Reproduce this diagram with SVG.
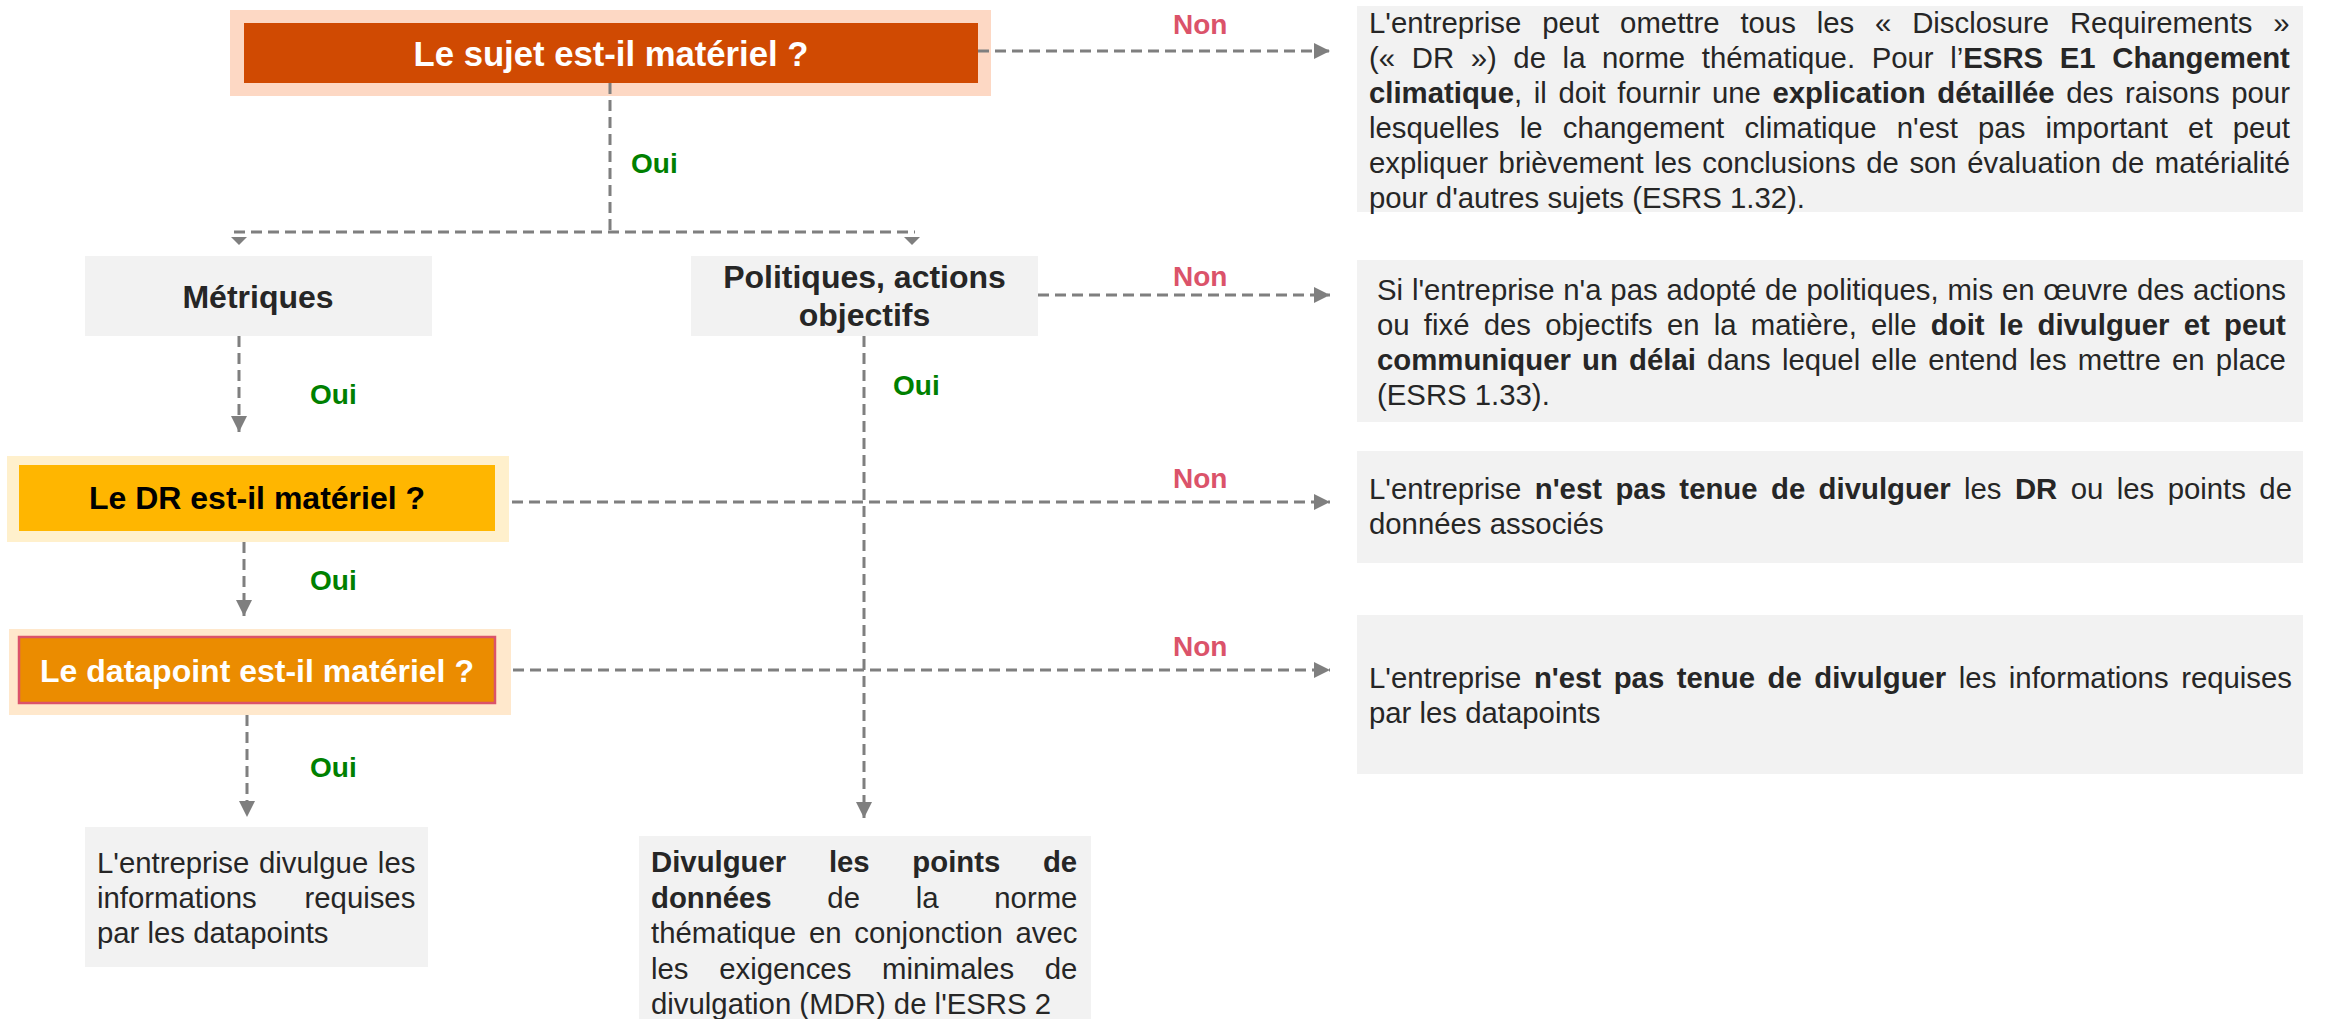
<svg xmlns="http://www.w3.org/2000/svg" width="2326" height="1019" viewBox="0 0 2326 1019">
<defs>
<style>
text{font-family:"Liberation Sans",Arial,Helvetica,sans-serif}
.t{font-size:29.33px;fill:#262626}
.b{font-weight:bold}
.h{font-size:32px;font-weight:bold;text-anchor:middle}
.lbl{font-size:28px;font-weight:bold}
.oui{fill:#008000}
.non{fill:#DB536A}
.box{fill:#F2F2F2}
.c{fill:none;stroke:#7F7F7F;stroke-width:3;stroke-dasharray:11 6}
.tri{fill:#7F7F7F}
</style>
<marker id="ah" markerUnits="userSpaceOnUse" markerWidth="16" markerHeight="16" refX="16" refY="8" orient="auto" viewBox="0 0 16 16">
<path d="M0,0 L16,8 L0,16 z" fill="#7F7F7F"/>
</marker>
</defs>
<rect width="2326" height="1019" fill="#FFFFFF"/>

<g id="n-sujet">
<rect x="230" y="10" width="761" height="86" fill="#FDD8C4"/>
<rect x="244" y="23" width="734" height="60" fill="#D04A02"/>
<text x="611" y="66" style="font-size:34.67px;font-weight:bold;text-anchor:middle;fill:#FFFFFF">Le sujet est-il matériel ?</text>
</g>

<g id="n-metriques">
<rect class="box" x="85" y="256" width="347" height="80"/>
<text class="h" x="258" y="308" fill="#262626">Métriques</text>
</g>

<g id="n-politiques">
<rect class="box" x="691" y="256" width="347" height="80"/>
<text class="h" x="864.5" y="288" fill="#262626">Politiques, actions</text>
<text class="h" x="864.5" y="326" fill="#262626">objectifs</text>
</g>

<g id="n-dr">
<rect x="7" y="456" width="502" height="86" fill="#FFF0CC"/>
<rect x="19" y="465" width="476" height="66" fill="#FFB600"/>
<text class="h" x="257" y="509" fill="#000000">Le DR est-il matériel ?</text>
</g>

<g id="n-datapoint">
<rect x="9" y="629" width="502" height="86" fill="#FFE8CC"/>
<rect x="19" y="637" width="476" height="66" fill="#EB8C00" stroke="#DB536A" stroke-width="2.5"/>
<text class="h" x="257" y="682" fill="#FFFFFF">Le datapoint est-il matériel ?</text>
</g>

<g id="n-omettre">
<rect class="box" x="1357" y="6" width="946" height="206"/>
<text class="t" x="1369" y="33" word-spacing="12.7">L'entreprise peut omettre tous les « Disclosure Requirements »</text>
<text class="t" x="1369" y="68" word-spacing="8.47">(« DR ») de la norme thématique. Pour l’<tspan class="b">ESRS E1 Changement</tspan></text>
<text class="t" x="1369" y="103" word-spacing="3.43"><tspan class="b">climatique</tspan>, il doit fournir une <tspan class="b">explication détaillée</tspan> des raisons pour</text>
<text class="t" x="1369" y="138" word-spacing="12.11">lesquelles le changement climatique n'est pas important et peut</text>
<text class="t" x="1369" y="173" word-spacing="2.44">expliquer brièvement les conclusions de son évaluation de matérialité</text>
<text class="t" x="1369" y="208">pour d'autres sujets (ESRS 1.32).</text>
</g>

<g id="n-politiques-non">
<rect class="box" x="1357" y="260" width="946" height="162"/>
<text class="t" x="1377" y="300" word-spacing="0.7">Si l'entreprise n'a pas adopté de politiques, mis en œuvre des actions</text>
<text class="t" x="1377" y="335" word-spacing="6.06">ou fixé des objectifs en la matière, elle <tspan class="b">doit le divulguer et peut</tspan></text>
<text class="t" x="1377" y="370" word-spacing="3.03"><tspan class="b">communiquer un délai</tspan> dans lequel elle entend les mettre en place</text>
<text class="t" x="1377" y="405">(ESRS 1.33).</text>
</g>

<g id="n-dr-non">
<rect class="box" x="1357" y="451" width="946" height="112"/>
<text class="t" x="1369" y="499" word-spacing="5.26">L'entreprise <tspan class="b">n'est pas tenue de divulguer</tspan> les <tspan class="b">DR</tspan> ou les points de</text>
<text class="t" x="1369" y="534">données associés</text>
</g>

<g id="n-datapoint-non">
<rect class="box" x="1357" y="615" width="946" height="159"/>
<text class="t" x="1369" y="688" word-spacing="4.39">L'entreprise <tspan class="b">n'est pas tenue de divulguer</tspan> les informations requises</text>
<text class="t" x="1369" y="723">par les datapoints</text>
</g>

<g id="n-divulgue">
<rect class="box" x="85" y="827" width="343" height="140"/>
<text class="t" x="97" y="873" word-spacing="1.5">L'entreprise divulgue les</text>
<text class="t" x="97" y="908" word-spacing="39.6">informations requises</text>
<text class="t" x="97" y="943">par les datapoints</text>
</g>

<g id="n-divulguer-mdr">
<rect class="box" x="639" y="836" width="452" height="183"/>
<text class="t b" x="651" y="872" word-spacing="34.5">Divulguer les points de</text>
<text class="t" x="651" y="907.5" word-spacing="47.6"><tspan class="b">données</tspan> de la norme</text>
<text class="t" x="651" y="943" word-spacing="4.65">thématique en conjonction avec</text>
<text class="t" x="651" y="978.5" word-spacing="22.6">les exigences minimales de</text>
<text class="t" x="651" y="1014">divulgation (MDR) de l'ESRS 2</text>
</g>

<g id="connectors">
<path class="c" d="M610,83 V232"/>
<path class="c" d="M234,232 H915"/>
<polygon class="tri" points="231,237 247,237 239,245"/>
<polygon class="tri" points="904,237 920,237 912,245"/>
<path class="c" d="M239,336 V432" marker-end="url(#ah)"/>
<path class="c" d="M244,542 V616" marker-end="url(#ah)"/>
<path class="c" d="M247,715 V817" marker-end="url(#ah)"/>
<path class="c" d="M864,336 V818" marker-end="url(#ah)"/>
<path class="c" d="M978,51 H1330" marker-end="url(#ah)"/>
<path class="c" d="M1038,295 H1330" marker-end="url(#ah)"/>
<path class="c" d="M512,502 H1330" marker-end="url(#ah)"/>
<path class="c" d="M513,670 H1330" marker-end="url(#ah)"/>
<text class="lbl oui" x="631" y="173">Oui</text>
<text class="lbl oui" x="310" y="404">Oui</text>
<text class="lbl oui" x="310" y="590">Oui</text>
<text class="lbl oui" x="310" y="777">Oui</text>
<text class="lbl oui" x="893" y="395">Oui</text>
<text class="lbl non" x="1173" y="34">Non</text>
<text class="lbl non" x="1173" y="286">Non</text>
<text class="lbl non" x="1173" y="488">Non</text>
<text class="lbl non" x="1173" y="656">Non</text>
</g>
</svg>
